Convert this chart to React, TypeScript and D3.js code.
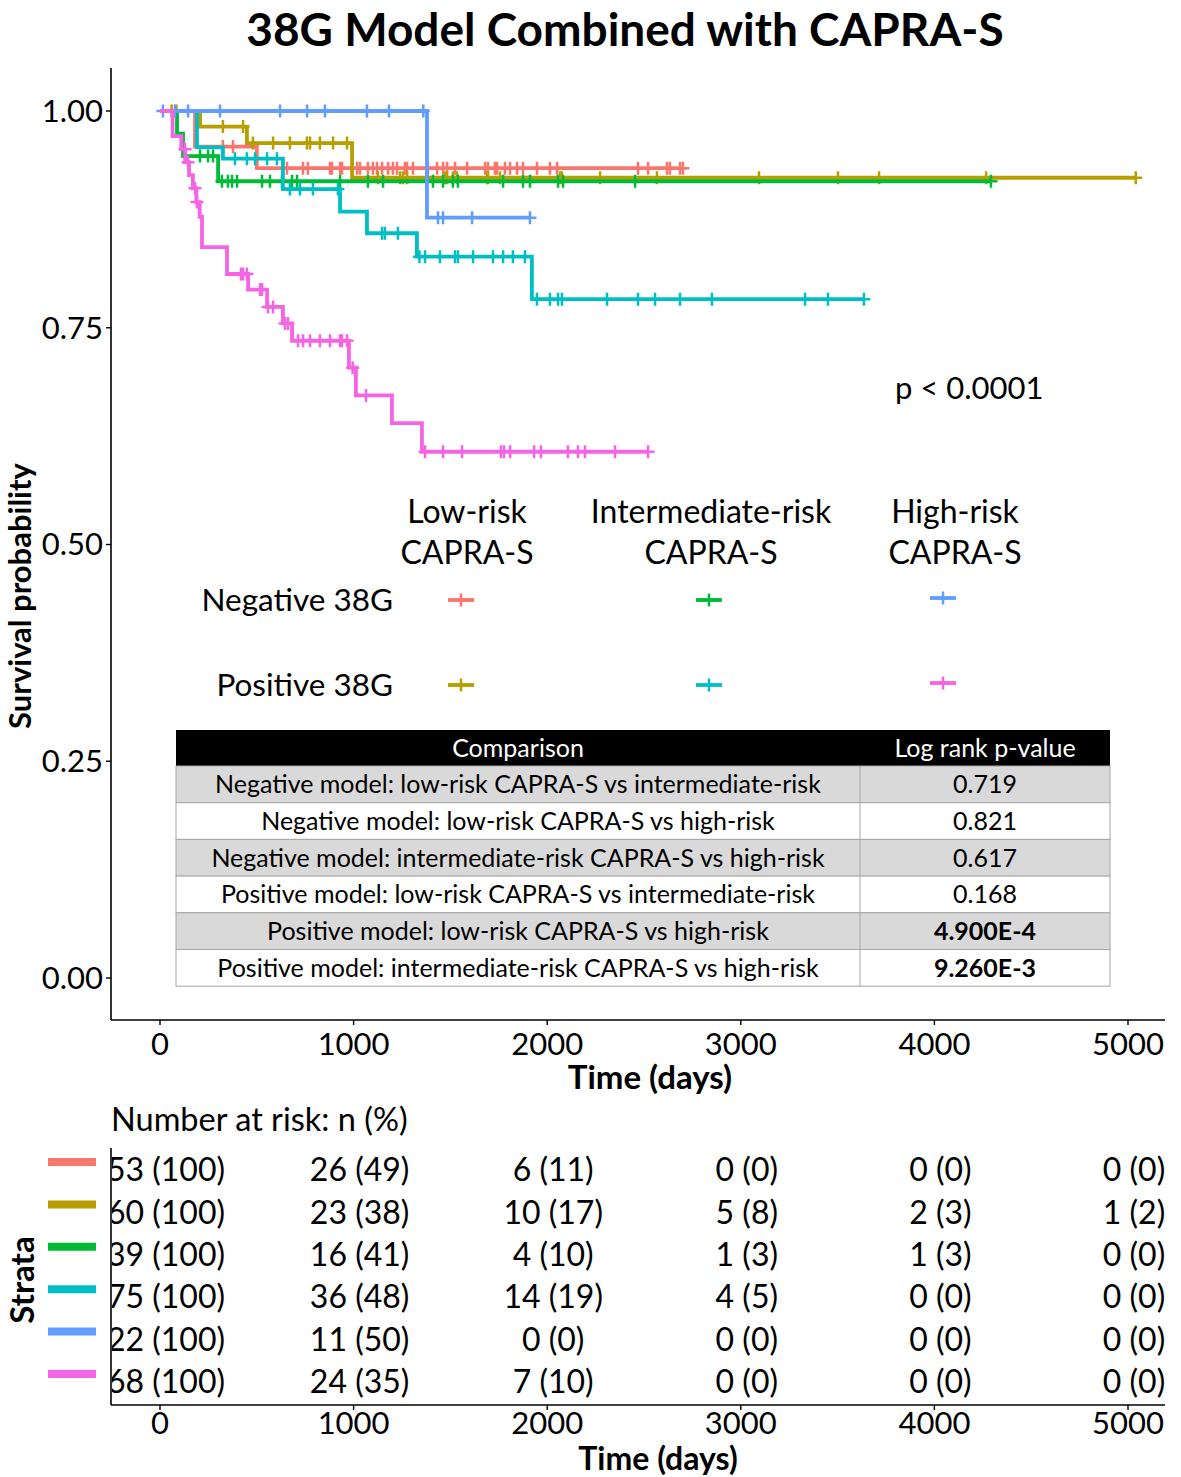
import React from 'react';
import * as d3 from 'd3';

const FONT = 'Lato, "Open Sans", sans-serif';

const STRATA = [
  'Low-risk CAPRA-S, Negative 38G',
  'Low-risk CAPRA-S, Positive 38G',
  'Intermediate-risk CAPRA-S, Negative 38G',
  'Intermediate-risk CAPRA-S, Positive 38G',
  'High-risk CAPRA-S, Negative 38G',
  'High-risk CAPRA-S, Positive 38G',
];
const COLORS = ['#F8766D', '#B79F00', '#00BA38', '#00BFC4', '#619CFF', '#F564E3'];

// event steps: [time, survival after the event]
const LOW_NEG_STEPS = [[181, 0.959], [500, 0.934]];
const LOW_POS_STEPS = [[207, 0.982], [449, 0.963], [992, 0.923]];
const INT_NEG_STEPS = [[88, 0.974], [119, 0.948], [300, 0.919]];
const INT_POS_STEPS = [[191, 0.958], [325, 0.945], [635, 0.91], [930, 0.884], [1069, 0.859], [1327, 0.832], [1921, 0.783]];
const HIGH_NEG_STEPS = [[1379, 0.877]];
const HIGH_POS_STEPS = [
  [65, 0.971], [110, 0.956], [130, 0.941], [150, 0.926], [170, 0.911], [188, 0.895], [205, 0.878],
  [217, 0.843], [346, 0.812], [455, 0.794], [553, 0.774], [635, 0.755], [682, 0.735],
  [976, 0.704], [1012, 0.672], [1198, 0.64], [1353, 0.607],
];

// censoring times
const LOW_NEG_CENSOR = [325, 377, 656, 739, 764, 878, 888, 930, 940, 1018, 1033, 1074, 1100, 1121, 1147, 1178, 1203, 1224, 1265, 1276, 1307, 1384, 1431, 1462, 1483, 1524, 1586, 1679, 1694, 1730, 1741, 1782, 1808, 1844, 1875, 1947, 2014, 2051, 2469, 2521, 2619, 2634, 2686, 2701];
const LOW_POS_CENSOR = [60, 85, 325, 429, 480, 584, 671, 759, 775, 826, 894, 966, 1126, 1240, 1255, 1276, 1472, 1482, 1513, 1534, 1689, 1694, 1756, 2066, 2076, 2273, 2567, 3094, 3502, 3714, 4267, 5040];
const INT_NEG_CENSOR = [207, 248, 274, 320, 351, 372, 398, 527, 568, 630, 682, 708, 930, 1074, 1152, 1379, 1410, 1462, 1513, 1539, 1772, 1875, 1911, 2056, 2082, 2454, 4292];
const INT_POS_CENSOR = [387, 449, 491, 553, 604, 671, 723, 790, 919, 1147, 1162, 1229, 1340, 1369, 1446, 1524, 1539, 1617, 1720, 1772, 1823, 1885, 1947, 2014, 2056, 2076, 2309, 2469, 2557, 2686, 2851, 3332, 3450, 3636];
const HIGH_NEG_CENSOR = [15, 77, 145, 310, 620, 760, 852, 1069, 1183, 1360, 1436, 1462, 1612, 1911];
const HIGH_POS_CENSOR = [129, 145, 181, 191, 418, 429, 449, 517, 527, 558, 584, 646, 661, 713, 739, 775, 826, 878, 930, 940, 966, 995, 1064, 1369, 1462, 1560, 1761, 1777, 1808, 1932, 1968, 2107, 2159, 2195, 2350, 2521];

const STEPS = [LOW_NEG_STEPS, LOW_POS_STEPS, INT_NEG_STEPS, INT_POS_STEPS, HIGH_NEG_STEPS, HIGH_POS_STEPS];
const CENSORS = [LOW_NEG_CENSOR, LOW_POS_CENSOR, INT_NEG_CENSOR, INT_POS_CENSOR, HIGH_NEG_CENSOR, HIGH_POS_CENSOR];

const X_TICKS = [0, 1000, 2000, 3000, 4000, 5000];
const Y_TICKS = [0, 0.25, 0.5, 0.75, 1];

const LEGEND_COLS = [['Low-risk', 'CAPRA-S'], ['Intermediate-risk', 'CAPRA-S'], ['High-risk', 'CAPRA-S']];
const LEGEND_ROWS = ['Negative 38G', 'Positive 38G'];

const COMPARISONS = [
  'Negative model: low-risk CAPRA-S vs intermediate-risk',
  'Negative model: low-risk CAPRA-S vs high-risk',
  'Negative model: intermediate-risk CAPRA-S vs high-risk',
  'Positive model: low-risk CAPRA-S vs intermediate-risk',
  'Positive model: low-risk CAPRA-S vs high-risk',
  'Positive model: intermediate-risk CAPRA-S vs high-risk',
];
const P_VALUES = ['0.719', '0.821', '0.617', '0.168', '4.900E-4', '9.260E-3'];
const P_BOLD = [false, false, false, false, true, true];

const RISK_N = [
  [53, 26, 6, 0, 0, 0],
  [60, 23, 10, 5, 2, 1],
  [39, 16, 4, 1, 1, 0],
  [75, 36, 14, 4, 0, 0],
  [22, 11, 0, 0, 0, 0],
  [68, 24, 7, 0, 0, 0],
];
const RISK_PCT = [
  [100, 49, 11, 0, 0, 0],
  [100, 38, 17, 8, 3, 2],
  [100, 41, 10, 3, 3, 0],
  [100, 48, 19, 5, 0, 0],
  [100, 50, 0, 0, 0, 0],
  [100, 35, 10, 0, 0, 0],
];

const W = 1181;
const H = 1477;

function survAt(steps: number[][], t: number) {
  let s = 1;
  for (const [st, sv] of steps) if (st <= t) s = sv;
  return s;
}

const plus = (s: number) => `M${-s},0H${s}M0,${-s}V${s}`;

export default function App() {
  const x = d3.scaleLinear().domain([0, 5000]).range([160, 1128]);
  const y = d3.scaleLinear().domain([0, 1]).range([978, 111]);
  const left = 111, right = 1165, top = 68, bottom = 1020;

  const line = d3.line<number[]>().x(d => x(d[0])).y(d => y(d[1])).curve(d3.curveStepAfter);

  const rowY = d3.scalePoint<number>().domain(d3.range(6)).range([1170, 1382]);

  const tblX0 = 176, tblX1 = 860, tblX2 = 1110, tblTop = 730, hdrH = 36, rowH = 36.7;

  const legColX = [467, 711, 955];
  const legKeyX = [461, 709, 943];
  const legRowY = [600, 685];

  return (
    <svg width={W} height={H} viewBox={`0 0 ${W} ${H}`} style={{ display: 'block', fontFamily: FONT }}>
      <style>{`body{margin:0}`}</style>
      <rect width={W} height={H} fill="#fff" />
      <defs>
        <clipPath id="panel"><rect x={left} y={top} width={right - left} height={bottom - top} /></clipPath>
        <clipPath id="riskpanel"><rect x={left + 1} y={1140} width={right - left} height={265} /></clipPath>
      </defs>

      <text x={625} y={46} textAnchor="middle" fontSize={46} fontWeight="bold">38G Model Combined with CAPRA-S</text>

      {/* survival curves */}
      <g clipPath="url(#panel)">
        {STEPS.map((steps, i) => {
          const censors = CENSORS[i];
          const end = censors[censors.length - 1];
          const pts = [[0, 1], ...steps, [end, steps[steps.length - 1][1]]];
          return (
            <g key={STRATA[i]}>
              <path d={line(pts) || ''} fill="none" stroke={COLORS[i]} strokeWidth={3.8} />
              {censors.map((c, j) => (
                <path key={j} d={plus(6.5)} transform={`translate(${x(c)},${y(survAt(steps, c))})`} stroke={COLORS[i]} strokeWidth={2.5} />
              ))}
            </g>
          );
        })}
      </g>

      {/* axes */}
      <line x1={left} x2={left} y1={top} y2={bottom} stroke="#000" strokeWidth={1.6} />
      <line x1={left} x2={right} y1={bottom} y2={bottom} stroke="#000" strokeWidth={1.6} />
      {Y_TICKS.map(t => (
        <g key={t}>
          <line x1={left - 5} x2={left} y1={y(t)} y2={y(t)} stroke="#000" strokeWidth={1.4} />
          <text x={left - 8} y={y(t)} dy="0.35em" textAnchor="end" fontSize={31}>{t.toFixed(2)}</text>
        </g>
      ))}
      {X_TICKS.map(t => (
        <g key={t}>
          <line x1={x(t)} x2={x(t)} y1={bottom} y2={bottom + 5} stroke="#000" strokeWidth={1.4} />
          <text x={x(t)} y={bottom + 35} textAnchor="middle" fontSize={31}>{t}</text>
        </g>
      ))}
      <text x={650} y={1089} textAnchor="middle" fontSize={33} fontWeight="bold">Time (days)</text>
      <text transform="translate(31,596) rotate(-90)" textAnchor="middle" fontSize={31} fontWeight="bold">Survival probability</text>

      <text x={895} y={399} fontSize={31}>p &lt; 0.0001</text>

      {/* legend */}
      {LEGEND_COLS.map((lines, c) => (
        <g key={c}>
          {lines.map((l, k) => (
            <text key={k} x={legColX[c]} y={523 + k * 41} textAnchor="middle" fontSize={32}>{l}</text>
          ))}
        </g>
      ))}
      {LEGEND_ROWS.map((r, k) => (
        <text key={r} x={393} y={legRowY[k]} dy="0.35em" textAnchor="end" fontSize={31.5}>{r}</text>
      ))}
      {STRATA.map((s, i) => {
        const col = Math.floor(i / 2), row = i % 2;
        const cx = legKeyX[col], cy = legRowY[row] - (col === 2 ? 2 : 0);
        return (
          <g key={s} transform={`translate(${cx},${cy})`}>
            <line x1={-13} x2={13} y1={0} y2={0} stroke={COLORS[i]} strokeWidth={3.8} />
            <path d={plus(6.5)} stroke={COLORS[i]} strokeWidth={2.5} />
          </g>
        );
      })}

      {/* comparison table */}
      <rect x={tblX0} y={tblTop} width={tblX2 - tblX0} height={hdrH} fill="#000" />
      <text x={(tblX0 + tblX1) / 2} y={tblTop + hdrH / 2} dy="0.35em" textAnchor="middle" fontSize={25} fill="#fff">Comparison</text>
      <text x={(tblX1 + tblX2) / 2} y={tblTop + hdrH / 2} dy="0.35em" textAnchor="middle" fontSize={25} fill="#fff">Log rank p-value</text>
      {COMPARISONS.map((c, i) => {
        const ry = tblTop + hdrH + i * rowH;
        return (
          <g key={c}>
            <rect x={tblX0} y={ry} width={tblX2 - tblX0} height={rowH} fill={i % 2 === 0 ? '#D9D9D9' : '#fff'} stroke="#A6A6A6" strokeWidth={1} />
            <line x1={tblX1} x2={tblX1} y1={ry} y2={ry + rowH} stroke="#A6A6A6" strokeWidth={1} />
            <text x={(tblX0 + tblX1) / 2} y={ry + rowH / 2} dy="0.35em" textAnchor="middle" fontSize={25}>{c}</text>
            <text x={(tblX1 + tblX2) / 2} y={ry + rowH / 2} dy="0.35em" textAnchor="middle" fontSize={25} fontWeight={P_BOLD[i] ? 'bold' : 'normal'}>{P_VALUES[i]}</text>
          </g>
        );
      })}

      {/* risk table */}
      <text x={111} y={1131} fontSize={32.5}>Number at risk: n (%)</text>
      <text transform="translate(34,1280) rotate(-90)" textAnchor="middle" fontSize={33} fontWeight="bold">Strata</text>
      {STRATA.map((s, i) => (
        <line key={s} x1={48} x2={96} y1={rowY(i)! - 8} y2={rowY(i)! - 8} stroke={COLORS[i]} strokeWidth={8} />
      ))}
      <g clipPath="url(#riskpanel)">
        {RISK_N.map((row, i) => row.map((n, j) => (
          <text key={`${i}-${j}`} x={x(X_TICKS[j]) + 6} y={rowY(i)!} dy="0.35em" textAnchor="middle" fontSize={32}>{`${n} (${RISK_PCT[i][j]})`}</text>
        )))}
      </g>
      <line x1={left} x2={left} y1={1148} y2={1405} stroke="#000" strokeWidth={1.6} />
      <line x1={left} x2={right} y1={1405} y2={1405} stroke="#000" strokeWidth={1.6} />
      {X_TICKS.map(t => (
        <g key={t}>
          <line x1={x(t)} x2={x(t)} y1={1405} y2={1410} stroke="#000" strokeWidth={1.4} />
          <text x={x(t)} y={1434} textAnchor="middle" fontSize={31}>{t}</text>
        </g>
      ))}
      <text x={658} y={1470} textAnchor="middle" fontSize={32} fontWeight="bold">Time (days)</text>
    </svg>
  );
}
